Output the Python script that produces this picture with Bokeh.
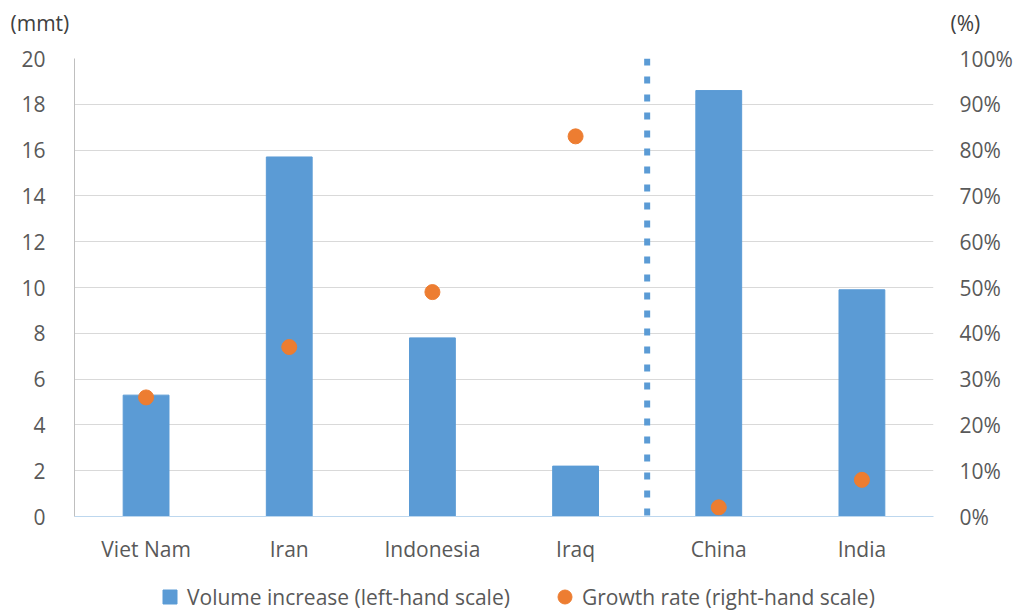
from bokeh.plotting import figure
from bokeh.layouts import column
from bokeh.models import (Range1d, LinearAxis, FixedTicker, NumeralTickFormatter,
                          Span, Label, Legend, LegendItem, ColumnDataSource)
from bokeh.embed import file_html
from bokeh.resources import INLINE

countries = ["Viet Nam", "Iran", "Indonesia", "Iraq", "China", "India"]
volume_increase = [5.3, 15.7, 7.8, 2.2, 18.6, 9.9]
growth_rate = [0.26, 0.37, 0.49, 0.83, 0.02, 0.08]
left_ticks = [0, 2, 4, 6, 8, 10, 12, 14, 16, 18, 20]
right_ticks = [0, 0.1, 0.2, 0.3, 0.4, 0.5, 0.6, 0.7, 0.8, 0.9, 1.0]
divider_position = 4.0
series_names = ["Volume increase (left-hand scale)", "Growth rate (right-hand scale)"]
unit_labels = ["(mmt)", "(%)"]

FONT = "Open Sans"
GREY = "#595959"
FS = "21px"
BLUE = "#5B9BD5"
ORANGE = "#ED7D31"

W = 1015
HEADER_H = 40
LEGEND_H = 46
MAIN_H = 611 - HEADER_H - LEGEND_H


def blank_fig(h):
    f = figure(width=W, height=h, output_backend="svg", toolbar_location=None,
               x_range=Range1d(-100, -99), y_range=Range1d(-100, -99),
               x_axis_type=None, y_axis_type=None, frame_align=False,
               min_border_left=0, min_border_right=0, min_border_top=0,
               min_border_bottom=0)
    f.outline_line_color = None
    f.xgrid.visible = False
    f.ygrid.visible = False
    return f


# ---------- header with unit labels ----------
header = blank_fig(HEADER_H)
header.add_layout(Label(x=10, y=HEADER_H - 22, x_units="screen", y_units="screen",
                        text=unit_labels[0], text_font=FONT, text_font_size=FS,
                        text_color="#404040", text_baseline="middle"))
header.add_layout(Label(x=950, y=HEADER_H - 22, x_units="screen", y_units="screen",
                        text=unit_labels[1], text_font=FONT, text_font_size=FS,
                        text_color="#404040", text_baseline="middle"))

# ---------- main chart ----------
xs = [i + 0.5 for i in range(len(countries))]
src = ColumnDataSource(dict(x=xs, vol=volume_increase, g=growth_rate))

p = figure(width=W, height=MAIN_H, output_backend="svg", toolbar_location=None,
           x_range=Range1d(0, len(countries)), y_range=Range1d(0, 20),
           frame_align=False,
           min_border_left=74, min_border_right=80, min_border_top=58 - HEADER_H,
           min_border_bottom=MAIN_H - (518 - HEADER_H))
p.outline_line_color = None
p.extra_y_ranges = {"pct": Range1d(0, 1)}

bars = p.vbar(x="x", top="vol", width=0.32, source=src, color=BLUE)
dots = p.scatter(x="x", y="g", size=15, source=src, color=ORANGE,
                 y_range_name="pct")

p.add_layout(Span(location=divider_position, dimension="height", line_color=BLUE,
                  line_width=6, line_dash="7 11"))

p.xaxis.ticker = FixedTicker(ticks=xs)
p.xaxis.major_label_overrides = {x: c for x, c in zip(xs, countries)}
p.xaxis.axis_line_color = "#BDD7EE"
p.xaxis.major_tick_line_color = None
p.xaxis.minor_tick_line_color = None
p.xaxis.major_label_standoff = 12
p.xaxis.major_label_text_font = FONT
p.xaxis.major_label_text_font_size = FS
p.xaxis.major_label_text_color = GREY
p.xgrid.grid_line_color = None

p.yaxis.ticker = FixedTicker(ticks=left_ticks)
p.yaxis.axis_line_color = "#BFBFBF"
p.yaxis.major_tick_line_color = None
p.yaxis.minor_tick_line_color = None
p.yaxis.major_label_standoff = 23
p.yaxis.major_label_text_font = FONT
p.yaxis.major_label_text_font_size = FS
p.yaxis.major_label_text_color = GREY
p.ygrid.ticker = FixedTicker(ticks=left_ticks[1:])
p.ygrid.grid_line_color = "#D9D9D9"

ra = LinearAxis(y_range_name="pct", ticker=FixedTicker(ticks=right_ticks),
                formatter=NumeralTickFormatter(format="0%"))
ra.axis_line_color = None
ra.major_tick_line_color = None
ra.minor_tick_line_color = None
ra.major_label_standoff = 20
ra.major_label_text_font = FONT
ra.major_label_text_font_size = FS
ra.major_label_text_color = GREY
p.add_layout(ra, "right")

# ---------- legend strip (key glyphs use the same data, all outside the view) ----------
lf = blank_fig(LEGEND_H)
k_bar = lf.scatter(x="x", y="vol", source=src, marker="square", size=14, color=BLUE)
k_dot = lf.scatter(x="x", y="g", source=src, marker="circle", size=14, color=ORANGE)
lg = Legend(items=[LegendItem(label=series_names[0], renderers=[k_bar]),
                   LegendItem(label=series_names[1], renderers=[k_dot])],
            orientation="horizontal", location=(152, -3))
lg.border_line_color = None
lg.background_fill_alpha = 0
lg.label_text_font = FONT
lg.label_text_font_size = FS
lg.label_text_color = GREY
lg.glyph_width = 35
lg.glyph_height = 35
lg.label_standoff = -5
lg.spacing = 37
lg.padding = 0
lg.margin = 0
lf.add_layout(lg)

layout = column(header, p, lf, spacing=0)
open("out.html", "w").write(file_html(layout, INLINE))
